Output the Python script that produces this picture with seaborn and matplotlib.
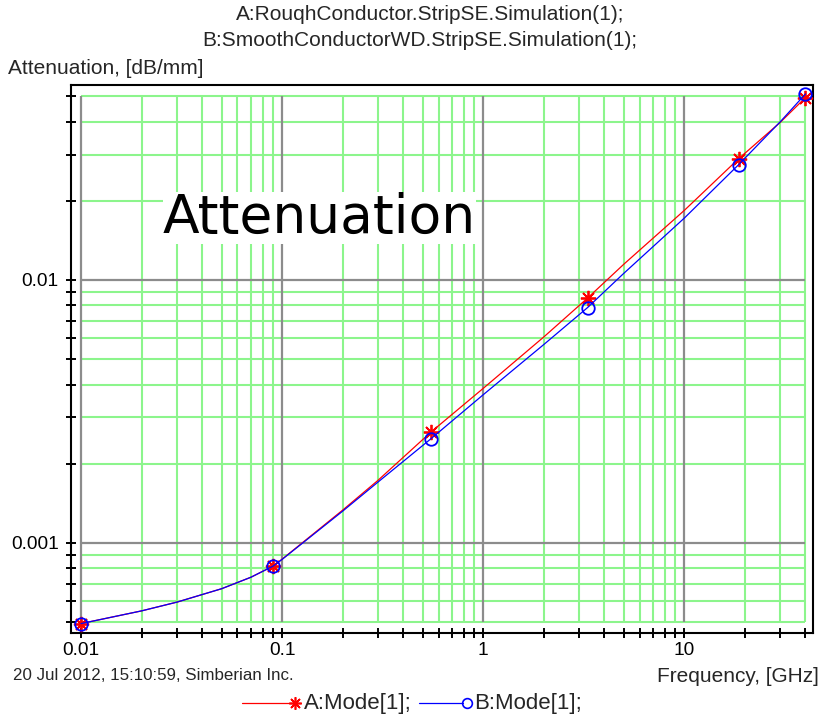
import matplotlib
matplotlib.use("Agg")
import matplotlib.pyplot as plt
from matplotlib.lines import Line2D
import seaborn as sns
import pandas as pd

# Simulated strip-line attenuation, dB/mm, versus frequency in GHz
freq_ghz = [0.01, 0.02, 0.03, 0.05, 0.07, 0.09, 0.1, 0.2, 0.3, 0.55,
            1, 2, 3.3, 5, 10, 18.6, 30, 40]
atten_rough = [0.000493, 0.000551, 0.000595, 0.000669, 0.00074, 0.000815,
               0.000867, 0.001332, 0.00173, 0.00264, 0.00387, 0.00607,
               0.00853, 0.01148, 0.0184, 0.0289, 0.0398, 0.0494]
atten_smooth = [0.000493, 0.000551, 0.000595, 0.000669, 0.00074, 0.000815,
                0.000865, 0.00132, 0.001704, 0.00249, 0.00366, 0.00568,
                0.00785, 0.0106, 0.0172, 0.02744, 0.0400, 0.0510]
marker_idx = [0, 5, 9, 12, 15, 17]

series_names = ["A:Mode[1];", "B:Mode[1];"]
title_lines = ["A:RouqhConductor.StripSE.Simulation(1);",
               "B:SmoothConductorWD.StripSE.Simulation(1);"]
y_title = "Attenuation, [dB/mm]"
x_title = "Frequency, [GHz]"
footer = "20 Jul 2012, 15:10:59, Simberian Inc."
banner = "Attenuation"

x_major = [0.01, 0.1, 1, 10]
x_major_labels = ["0.01", "0.1", "1", "10"]
y_major = [0.001, 0.01]
y_major_labels = ["0.001", "0.01"]
x_minor = [m * d for d in (0.01, 0.1, 1, 10) for m in range(2, 10) if m * d <= 40]
y_minor = [m * d for d in (0.0001, 0.001, 0.01) for m in range(2, 10)
           if 0.0005 <= m * d <= 0.05]
grid_x = (0.01, 40)
grid_y = (0.0005, 0.05)

sns.set_style("white")
plt.rcParams["font.family"] = ["Liberation Sans", "DejaVu Sans"]

fig = plt.figure(figsize=(8.21, 7.15), dpi=100)
ax = fig.add_axes([71 / 821, 1 - 633 / 715, 742 / 821, 548.3 / 715])
ax.set_xscale("log")
ax.set_yscale("log")
ax.set_xlim(0.00892, 43.6)
ax.set_ylim(0.000454, 0.0553)

grid_green = "#8cf58c"
grid_gray = "#8c8c8c"
ax.vlines(x_minor, *grid_y, colors=grid_green, linewidth=1.5, zorder=1)
ax.hlines(y_minor, *grid_x, colors=grid_green, linewidth=1.5, zorder=1)
ax.vlines(x_major, *grid_y, colors=grid_gray, linewidth=1.6, zorder=1.5)
ax.hlines(y_major, *grid_x, colors=grid_gray, linewidth=1.6, zorder=1.5)

df = pd.DataFrame({"freq": freq_ghz, "rough": atten_rough, "smooth": atten_smooth})
sns.lineplot(data=df, x="freq", y="rough", ax=ax, color="red", linewidth=0.9,
             marker=(8, 2, 0), markersize=11, markevery=marker_idx,
             markeredgecolor="red", markeredgewidth=1.3, zorder=3)
sns.lineplot(data=df, x="freq", y="smooth", ax=ax, color="blue", linewidth=0.9,
             marker="o", markersize=9, markevery=marker_idx,
             markerfacecolor="none", markeredgecolor="blue",
             markeredgewidth=1.3, zorder=3.5)
if ax.get_legend() is not None:
    ax.get_legend().remove()

ax.set_xlabel("")
ax.set_ylabel("")
ax.set_xticks(x_major, x_major_labels)
ax.set_xticks(x_minor, minor=True)
ax.set_yticks(y_major, y_major_labels)
ax.set_yticks(y_minor, minor=True)
ax.xaxis.set_minor_formatter(matplotlib.ticker.NullFormatter())
ax.yaxis.set_minor_formatter(matplotlib.ticker.NullFormatter())
ax.tick_params(which="both", direction="inout", length=7.5, width=1.4,
               color="black", labelsize=13.7, labelcolor="black",
               left=True, bottom=True, top=False, right=False)
ax.tick_params(axis="x", which="both", pad=3)
ax.tick_params(axis="y", which="both", pad=5)
for side, sp in ax.spines.items():
    sp.set_color("black")
    sp.set_linewidth(1.5)
    sp.set_visible(True)

ax.text(0.124, 0.7295, banner, transform=ax.transAxes, ha="left",
        va="baseline", fontsize=38.5, family=["DejaVu Sans"], color="black",
        zorder=4, bbox=dict(facecolor="white", edgecolor="none", pad=0))

fig.text(430 / 821, 1 - 15 / 715, title_lines[0], ha="center", va="center",
         fontsize=15)
fig.text(420 / 821, 1 - 40 / 715, title_lines[1], ha="center", va="center",
         fontsize=15)
fig.text(8 / 821, 1 - 69 / 715, y_title, ha="left", va="center", fontsize=15)
fig.text(13 / 821, 1 - 676 / 715, footer, ha="left", va="center", fontsize=12.2)
fig.text(819 / 821, 1 - 676 / 715, x_title, ha="right", va="center", fontsize=15)

# Legend row: short line ending in the series marker, then its name
ly = 1 - 703 / 715
fig.add_artist(Line2D([242 / 821, 293 / 821], [ly, ly], color="red", linewidth=0.9))
fig.add_artist(Line2D([295 / 821], [ly], color="red", marker=(8, 2, 0),
                      markersize=9, markeredgewidth=1.2, linestyle="none"))
fig.text(304 / 821, ly, series_names[0], ha="left", va="center", fontsize=16)
fig.add_artist(Line2D([419 / 821, 463 / 821], [ly, ly], color="blue", linewidth=0.9))
fig.add_artist(Line2D([467 / 821], [ly], color="blue", marker="o", markersize=7,
                      markerfacecolor="none", markeredgewidth=1.2, linestyle="none"))
fig.text(474 / 821, ly, series_names[1], ha="left", va="center", fontsize=16)

fig.savefig("out.png", dpi=100)
